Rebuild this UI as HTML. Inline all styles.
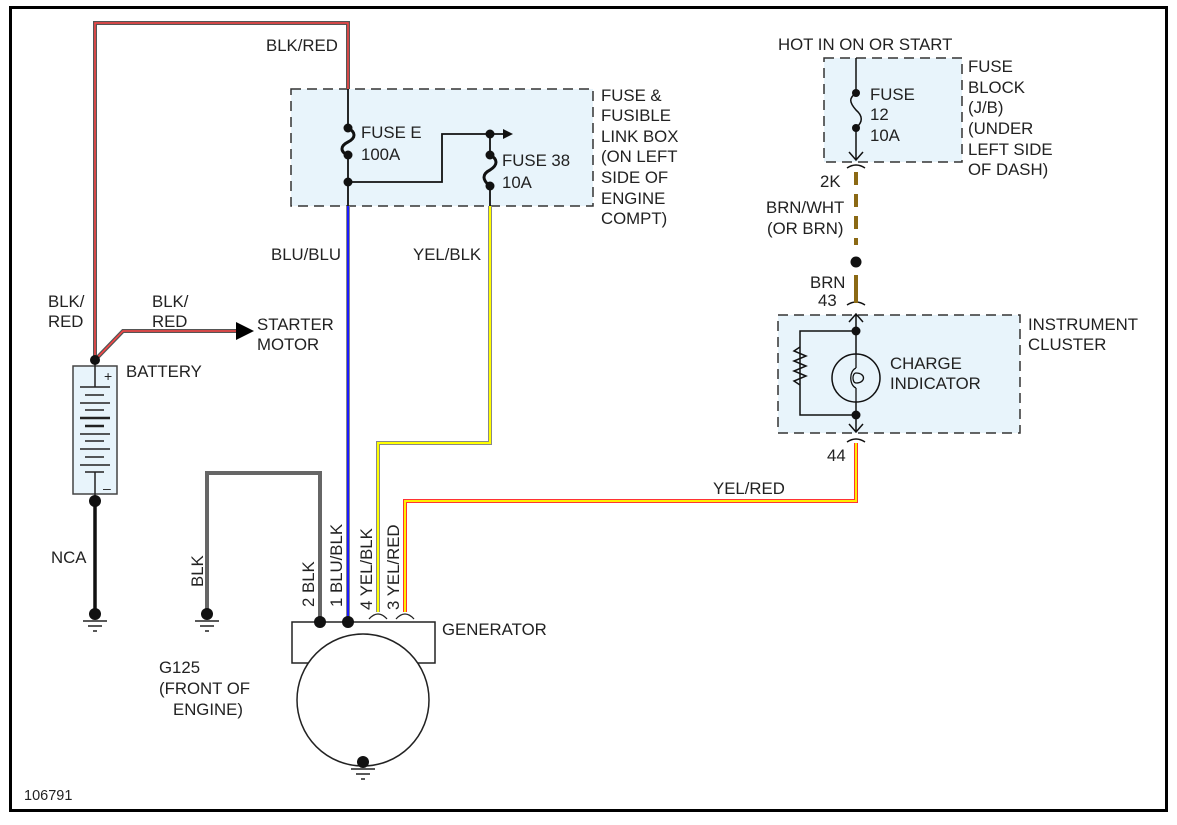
<!DOCTYPE html>
<html><head><meta charset="utf-8"><style>
html,body{margin:0;padding:0;background:#fff;}
svg{display:block;}
text{font-family:"Liberation Sans",Arial,sans-serif;font-size:16.8px;fill:#222;}
</style></head><body>
<svg width="1177" height="825" viewBox="0 0 1177 825" xmlns="http://www.w3.org/2000/svg">
<rect x="10.5" y="7.5" width="1156" height="803" fill="none" stroke="#000" stroke-width="3"/>
<!-- boxes -->
<rect x="291" y="89" width="302" height="117" fill="#e8f4fb" stroke="#333" stroke-width="1.5" stroke-dasharray="10,6"/>
<rect x="824" y="58" width="138" height="104" fill="#e8f4fb" stroke="#333" stroke-width="1.5" stroke-dasharray="10,6"/>
<rect x="778" y="315" width="242" height="118" fill="#e8f4fb" stroke="#333" stroke-width="1.5" stroke-dasharray="10,6"/>
<!-- BLK/RED top wire -->
<path d="M95,360 V23 H348 V89" fill="none" stroke="#555" stroke-width="4"/>
<path d="M95,360 V23 H348 V89" fill="none" stroke="#f44" stroke-width="1.5"/>
<!-- starter wire -->
<path d="M95,360 L123,331 H238" fill="none" stroke="#555" stroke-width="4"/>
<path d="M95,360 L123,331 H238" fill="none" stroke="#f44" stroke-width="1.5"/>
<polygon points="236,322 254,331 236,340" fill="#000"/>
<!-- fuse E -->
<g stroke="#111" stroke-width="1.8" fill="none">
<path d="M348,89 V128 M348,182 V206"/>
<path d="M348,155 V182 H442 V134 H505"/>
<path d="M490,134 V155 M490,186 V206"/>
</g>
<g stroke="#111" stroke-width="3" fill="none">
<path d="M348,128 c8,4 8,10 0,14 c-8,4 -8,10 0,13"/>
<path d="M490,155 c8,4 8,10 0,15 c-8,4 -8,10 0,16"/>
</g>
<polygon points="503,129 513,134 503,139" fill="#111"/>
<g fill="#111">
<circle cx="348" cy="128" r="4.5"/><circle cx="348" cy="155" r="4.5"/><circle cx="348" cy="182" r="4.5"/>
<circle cx="490" cy="134" r="4.5"/><circle cx="490" cy="155" r="4.5"/><circle cx="490" cy="186" r="4.5"/>
</g>
<!-- blue wire -->
<path d="M348,206 V622" stroke="#888" stroke-width="4"/>
<path d="M348,206 V622" stroke="#1a1aff" stroke-width="2"/>
<!-- yel/blk -->
<path d="M490,206 V443 H378 V612" fill="none" stroke="#888" stroke-width="4"/>
<path d="M490,206 V443 H378 V612" fill="none" stroke="#ffff00" stroke-width="2"/>
<!-- yel/red -->
<path d="M405,612 V501 H856 V443" fill="none" stroke="#ff3333" stroke-width="4"/>
<path d="M405,612 V501 H856 V443" fill="none" stroke="#ffee00" stroke-width="2"/>
<!-- BLK ground wire -->
<path d="M320,622 V473 H207 V612" fill="none" stroke="#666" stroke-width="4"/>
<!-- battery -->
<rect x="73" y="366" width="44" height="128" fill="#e8f4fb" stroke="#444" stroke-width="1.5"/>
<g stroke="#222" stroke-width="1.5">
<path d="M95,360 V387 M95,472 V500"/>
<path d="M80,387 H110 M85,395 H104 M80,403 H110 M85,410 H104 M80,418 H110 M85,426 H104 M80,434 H110 M85,441 H104 M80,449 H110 M85,457 H104 M80,465 H110 M85,472 H104"/>
<path d="M80,418 H110 M85,426 H104" stroke-width="2.5"/>
</g>
<text x="104" y="381" style="font-size:14px">+</text>
<text x="103" y="493" style="font-size:14px">–</text>
<path d="M95,500 V612" stroke="#111" stroke-width="3.5"/>
<!-- generator -->
<rect x="292" y="622" width="143" height="41" fill="#fff" stroke="#222" stroke-width="1.5"/>
<circle cx="363" cy="700" r="66" fill="#fff" stroke="#222" stroke-width="1.5"/>
<g stroke="#222" stroke-width="1.3" fill="none">
<path d="M369,619 q9,-10 18,0"/>
<path d="M396,619 q9,-10 18,0"/>
</g>
<g fill="#111">
<circle cx="95" cy="360" r="5"/><circle cx="95" cy="501" r="6"/>
<circle cx="95" cy="614" r="6"/><circle cx="207" cy="614" r="6"/>
<circle cx="320" cy="622" r="6"/><circle cx="348" cy="622" r="6"/>
<circle cx="363" cy="762" r="6"/>
</g>
<g stroke="#222" stroke-width="1.5">
<path d="M83,621 H107 M88,626 H102 M93,631 H97"/>
<path d="M195,621 H219 M200,626 H214 M205,631 H209"/>
<path d="M351,769 H375 M356,774 H370 M361,779 H365"/>
</g>
<!-- right side -->
<g stroke="#111" stroke-width="1.5" fill="none">
<path d="M856,58 V93 M856,128 V160 M849,152 L856,160 L863,152"/>
<path d="M856,93 c-7,5 -7,9 0,17 c7,6 7,12 0,18"/>
<path d="M847,168 q9,-6 18,0"/>
<path d="M847,305 q9,-6 18,0"/>
<path d="M856,314 V354 M856,402 V431 M849,322 L856,314 L863,322 M849,424 L856,432 L863,424"/>
<path d="M856,331 H800 V415 H856"/>
<path d="M800,347 l-6,4 l12,5 l-12,5 l12,5 l-12,5 l12,5 l-12,5 l6,4"/>
<circle cx="856" cy="378" r="24"/>
<path d="M856,354 V368 M856,388 V402 M856,368 c-7,3 -7,17 0,20 M856,373 c10,0 10,10 0,10 c-4,0 -4,-10 0,-10" stroke-width="1.3"/>
<path d="M847,442 q9,-6 18,0"/>
</g>
<g fill="#111"><circle cx="856" cy="93" r="4"/><circle cx="856" cy="128" r="4"/><circle cx="856" cy="331" r="4.5"/><circle cx="856" cy="415" r="4.5"/><circle cx="856" cy="262" r="5.5"/></g>
<path d="M856,172 V245" stroke="#8b6914" stroke-width="4" stroke-dasharray="13,9"/>
<path d="M856,275 V303" stroke="#8b6914" stroke-width="4"/>
<!-- labels -->
<text x="266" y="51">BLK/RED</text>
<text x="601" y="101">FUSE &amp;</text>
<text x="601" y="121">FUSIBLE</text>
<text x="601" y="142">LINK BOX</text>
<text x="601" y="162">(ON LEFT</text>
<text x="601" y="183">SIDE OF</text>
<text x="601" y="204">ENGINE</text>
<text x="601" y="224">COMPT)</text>
<text x="361" y="138">FUSE E</text>
<text x="361" y="160">100A</text>
<text x="502" y="166">FUSE 38</text>
<text x="502" y="188">10A</text>
<text x="271" y="260">BLU/BLU</text>
<text x="413" y="260">YEL/BLK</text>
<text x="48" y="307">BLK/</text>
<text x="48" y="327">RED</text>
<text x="152" y="307">BLK/</text>
<text x="152" y="327">RED</text>
<text x="257" y="330">STARTER</text>
<text x="257" y="350">MOTOR</text>
<text x="126" y="377">BATTERY</text>
<text x="51" y="563">NCA</text>
<text x="159" y="673">G125</text>
<text x="159" y="694">(FRONT OF</text>
<text x="173" y="715">ENGINE)</text>
<text x="442" y="635">GENERATOR</text>
<text x="713" y="494">YEL/RED</text>
<text x="24" y="800" style="font-size:14.5px">106791</text>
<g>
<text transform="translate(203,587) rotate(-90)">BLK</text>
<text transform="translate(314,607) rotate(-90)">2  BLK</text>
<text transform="translate(342,607) rotate(-90)">1  BLU/BLK</text>
<text transform="translate(372,610) rotate(-90)">4  YEL/BLK</text>
<text transform="translate(399,610) rotate(-90)">3  YEL/RED</text>
</g>
<text x="778" y="50">HOT IN ON OR START</text>
<text x="870" y="100">FUSE</text>
<text x="870" y="120">12</text>
<text x="870" y="141">10A</text>
<text x="968" y="72">FUSE</text>
<text x="968" y="93">BLOCK</text>
<text x="968" y="113">(J/B)</text>
<text x="968" y="134">(UNDER</text>
<text x="968" y="155">LEFT SIDE</text>
<text x="968" y="175">OF DASH)</text>
<text x="820" y="187">2K</text>
<text x="766" y="213">BRN/WHT</text>
<text x="767" y="234">(OR BRN)</text>
<text x="810" y="288">BRN</text>
<text x="818" y="306">43</text>
<text x="1028" y="330">INSTRUMENT</text>
<text x="1028" y="350">CLUSTER</text>
<text x="890" y="369">CHARGE</text>
<text x="890" y="389">INDICATOR</text>
<text x="827" y="461">44</text>
</svg>
</body></html>
